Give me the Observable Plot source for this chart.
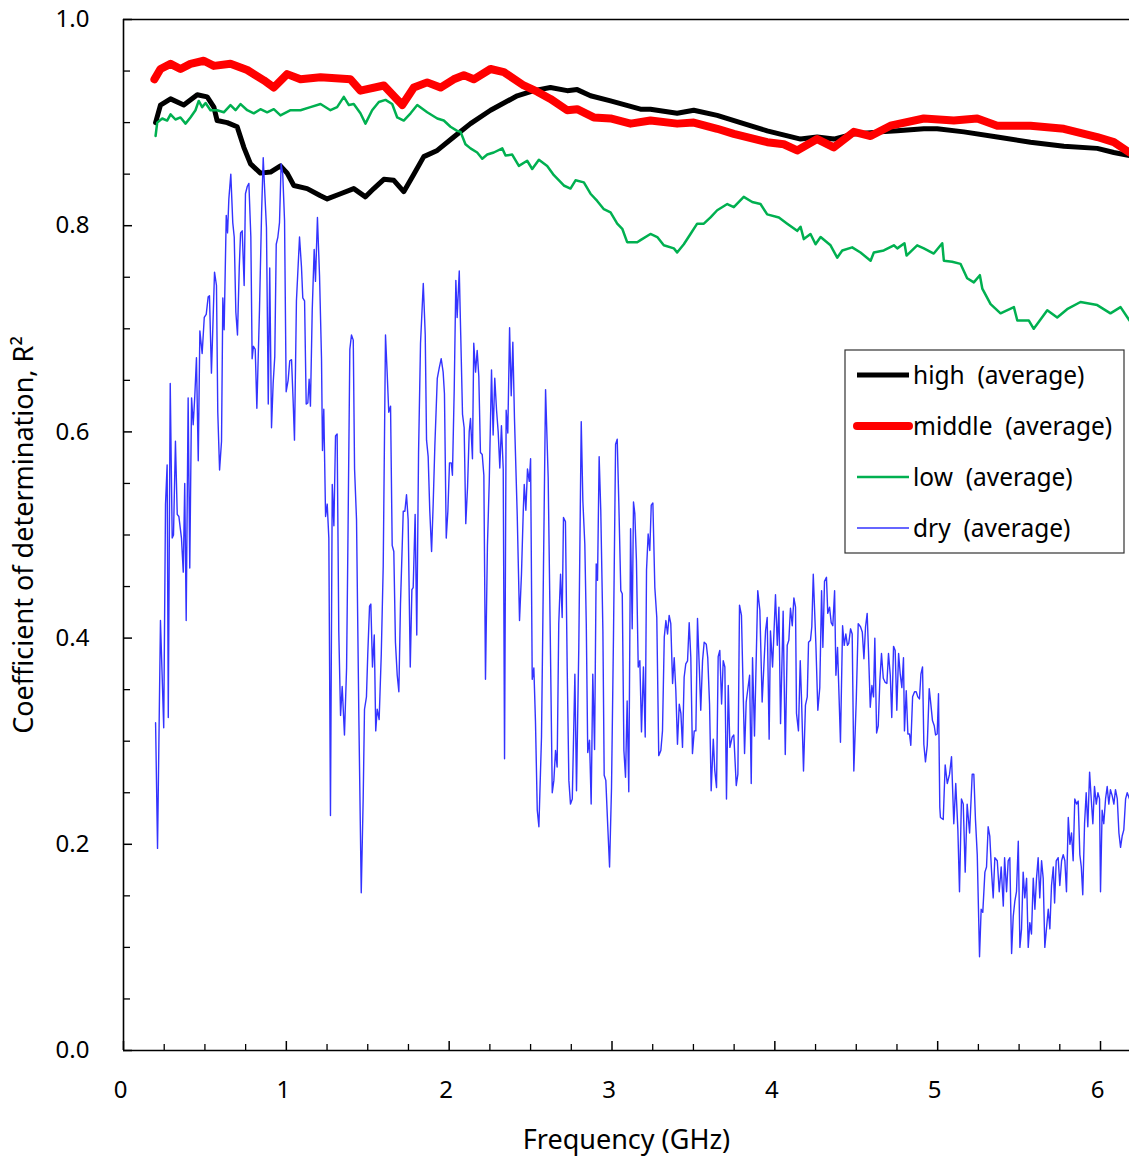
<!DOCTYPE html>
<html><head><meta charset="utf-8">
<script src="https://cdn.jsdelivr.net/npm/d3@7"></script>
<script src="https://cdn.jsdelivr.net/npm/@observablehq/plot@0.6"></script>
<style>
body{margin:0;background:#fff;font-family:"Noto Sans",sans-serif;}
#wrap{position:relative;width:1129px;height:1162px;}
#legend{position:absolute;left:844px;top:349px;}
</style></head><body><div id="wrap"></div><script>
// ---- data: [frequency GHz, R^2] ----
const highPoints = [[0.197,0.900],[0.227,0.917],[0.289,0.923],[0.370,0.917],[0.453,0.927],[0.514,0.925],[0.555,0.915],[0.575,0.902],[0.637,0.900],[0.698,0.896],[0.739,0.876],[0.780,0.860],[0.841,0.851],[0.903,0.852],[0.964,0.858],[1.005,0.851],[1.046,0.839],[1.128,0.836],[1.210,0.829],[1.251,0.826],[1.333,0.831],[1.414,0.836],[1.486,0.828],[1.537,0.836],[1.599,0.845],[1.660,0.844],[1.721,0.833],[1.783,0.850],[1.844,0.867],[1.927,0.873],[2.028,0.886],[2.131,0.899],[2.254,0.912],[2.418,0.926],[2.520,0.931],[2.622,0.934],[2.725,0.931],[2.786,0.932],[2.868,0.926],[2.991,0.921],[3.175,0.913],[3.236,0.913],[3.400,0.909],[3.502,0.912],[3.646,0.907],[3.789,0.900],[3.953,0.892],[4.158,0.884],[4.260,0.886],[4.362,0.884],[4.485,0.889],[4.649,0.891],[4.752,0.892],[4.915,0.894],[4.997,0.894],[5.161,0.891],[5.366,0.886],[5.570,0.881],[5.775,0.877],[5.980,0.875],[6.082,0.871],[6.178,0.868]];
const middlePoints = [[0.190,0.942],[0.227,0.952],[0.289,0.957],[0.350,0.952],[0.411,0.957],[0.493,0.960],[0.555,0.955],[0.657,0.957],[0.760,0.951],[0.862,0.941],[0.923,0.934],[1.005,0.947],[1.087,0.942],[1.210,0.944],[1.394,0.942],[1.455,0.931],[1.599,0.936],[1.712,0.917],[1.783,0.934],[1.865,0.939],[1.947,0.934],[2.028,0.942],[2.090,0.946],[2.151,0.942],[2.254,0.952],[2.336,0.949],[2.458,0.936],[2.541,0.930],[2.622,0.923],[2.725,0.912],[2.786,0.913],[2.888,0.905],[2.991,0.904],[3.114,0.899],[3.236,0.902],[3.400,0.899],[3.502,0.900],[3.646,0.894],[3.748,0.889],[3.953,0.881],[4.055,0.879],[4.137,0.873],[4.260,0.884],[4.362,0.876],[4.485,0.891],[4.588,0.887],[4.710,0.897],[4.915,0.904],[5.099,0.902],[5.243,0.904],[5.366,0.897],[5.570,0.897],[5.775,0.894],[5.980,0.886],[6.082,0.881],[6.178,0.871]];
const lowPoints = [[0.197,0.887],[0.207,0.900],[0.238,0.904],[0.268,0.902],[0.289,0.908],[0.319,0.903],[0.350,0.905],[0.381,0.899],[0.411,0.905],[0.442,0.912],[0.462,0.921],[0.483,0.915],[0.504,0.919],[0.534,0.912],[0.575,0.912],[0.616,0.910],[0.657,0.917],[0.688,0.912],[0.719,0.918],[0.760,0.912],[0.800,0.909],[0.841,0.913],[0.882,0.910],[0.923,0.913],[0.964,0.907],[1.026,0.912],[1.087,0.912],[1.148,0.915],[1.210,0.918],[1.271,0.912],[1.312,0.915],[1.353,0.925],[1.384,0.917],[1.414,0.918],[1.455,0.909],[1.486,0.899],[1.527,0.912],[1.568,0.920],[1.609,0.922],[1.650,0.918],[1.681,0.905],[1.721,0.902],[1.763,0.909],[1.804,0.917],[1.865,0.910],[1.927,0.904],[1.967,0.902],[2.008,0.896],[2.049,0.892],[2.070,0.891],[2.100,0.879],[2.131,0.875],[2.172,0.871],[2.203,0.865],[2.234,0.869],[2.274,0.871],[2.326,0.875],[2.346,0.868],[2.387,0.869],[2.428,0.858],[2.479,0.863],[2.510,0.855],[2.551,0.864],[2.602,0.858],[2.643,0.849],[2.704,0.839],[2.745,0.836],[2.776,0.844],[2.827,0.842],[2.868,0.831],[2.909,0.824],[2.950,0.816],[2.991,0.813],[3.032,0.802],[3.063,0.797],[3.093,0.784],[3.155,0.784],[3.175,0.786],[3.236,0.792],[3.278,0.789],[3.318,0.781],[3.380,0.778],[3.400,0.774],[3.441,0.782],[3.482,0.792],[3.523,0.802],[3.564,0.802],[3.605,0.808],[3.646,0.815],[3.708,0.821],[3.748,0.818],[3.809,0.828],[3.861,0.823],[3.912,0.821],[3.953,0.811],[4.025,0.808],[4.076,0.802],[4.137,0.795],[4.158,0.799],[4.178,0.787],[4.219,0.792],[4.250,0.782],[4.281,0.789],[4.342,0.781],[4.383,0.769],[4.414,0.776],[4.475,0.779],[4.526,0.774],[4.588,0.766],[4.608,0.774],[4.669,0.776],[4.731,0.781],[4.752,0.778],[4.796,0.783],[4.809,0.771],[4.874,0.781],[4.915,0.778],[4.976,0.773],[5.028,0.783],[5.038,0.766],[5.089,0.765],[5.140,0.763],[5.181,0.749],[5.222,0.745],[5.259,0.752],[5.274,0.739],[5.325,0.724],[5.386,0.715],[5.468,0.721],[5.489,0.708],[5.560,0.708],[5.590,0.700],[5.673,0.718],[5.734,0.711],[5.795,0.719],[5.877,0.726],[5.980,0.723],[6.061,0.715],[6.123,0.721],[6.178,0.708]];
const dryPoints = [[0.197,0.318],[0.209,0.196],[0.227,0.417],[0.247,0.313],[0.258,0.530],[0.268,0.568],[0.275,0.323],[0.287,0.647],[0.299,0.497],[0.307,0.500],[0.319,0.591],[0.330,0.520],[0.340,0.518],[0.356,0.497],[0.367,0.464],[0.376,0.550],[0.385,0.417],[0.397,0.633],[0.407,0.468],[0.418,0.633],[0.428,0.607],[0.438,0.635],[0.448,0.672],[0.459,0.572],[0.469,0.698],[0.483,0.676],[0.496,0.711],[0.508,0.714],[0.520,0.731],[0.528,0.732],[0.540,0.657],[0.559,0.755],[0.571,0.742],[0.579,0.619],[0.590,0.563],[0.602,0.591],[0.610,0.730],[0.618,0.699],[0.631,0.810],[0.639,0.793],[0.647,0.826],[0.659,0.850],[0.671,0.803],[0.680,0.789],[0.690,0.716],[0.700,0.694],[0.711,0.760],[0.719,0.793],[0.729,0.795],[0.741,0.742],[0.749,0.831],[0.760,0.838],[0.770,0.841],[0.782,0.789],[0.790,0.671],[0.798,0.683],[0.809,0.680],[0.819,0.623],[0.835,0.718],[0.848,0.812],[0.858,0.866],[0.868,0.831],[0.878,0.798],[0.889,0.627],[0.898,0.759],[0.909,0.604],[0.919,0.647],[0.929,0.673],[0.938,0.782],[0.948,0.789],[0.958,0.803],[0.968,0.860],[0.978,0.850],[0.989,0.805],[0.999,0.639],[1.011,0.650],[1.021,0.669],[1.032,0.670],[1.042,0.629],[1.050,0.592],[1.062,0.727],[1.081,0.789],[1.093,0.760],[1.101,0.730],[1.112,0.727],[1.122,0.627],[1.132,0.628],[1.140,0.651],[1.148,0.625],[1.159,0.718],[1.171,0.777],[1.179,0.746],[1.191,0.808],[1.204,0.751],[1.216,0.671],[1.222,0.582],[1.230,0.622],[1.241,0.518],[1.251,0.530],[1.261,0.497],[1.271,0.228],[1.282,0.549],[1.292,0.509],[1.302,0.596],[1.312,0.598],[1.322,0.407],[1.333,0.325],[1.343,0.353],[1.357,0.306],[1.370,0.371],[1.378,0.490],[1.390,0.680],[1.400,0.694],[1.411,0.689],[1.419,0.564],[1.431,0.515],[1.445,0.327],[1.460,0.153],[1.472,0.245],[1.480,0.331],[1.492,0.343],[1.500,0.384],[1.511,0.431],[1.519,0.433],[1.529,0.372],[1.540,0.403],[1.549,0.310],[1.558,0.331],[1.570,0.321],[1.583,0.384],[1.595,0.470],[1.609,0.694],[1.619,0.658],[1.629,0.619],[1.640,0.625],[1.650,0.490],[1.660,0.484],[1.670,0.396],[1.681,0.364],[1.691,0.348],[1.701,0.433],[1.718,0.523],[1.728,0.523],[1.738,0.539],[1.748,0.515],[1.761,0.372],[1.771,0.447],[1.779,0.449],[1.791,0.520],[1.801,0.403],[1.812,0.580],[1.824,0.686],[1.841,0.744],[1.853,0.694],[1.861,0.592],[1.871,0.576],[1.881,0.523],[1.892,0.484],[1.902,0.531],[1.912,0.586],[1.927,0.652],[1.939,0.662],[1.951,0.671],[1.963,0.658],[1.971,0.637],[1.982,0.497],[1.992,0.523],[2.002,0.570],[2.013,0.570],[2.020,0.558],[2.031,0.641],[2.041,0.747],[2.049,0.711],[2.062,0.756],[2.071,0.694],[2.082,0.617],[2.092,0.604],[2.102,0.511],[2.113,0.547],[2.123,0.600],[2.131,0.613],[2.143,0.574],[2.151,0.686],[2.162,0.658],[2.172,0.679],[2.182,0.654],[2.192,0.580],[2.203,0.578],[2.213,0.558],[2.223,0.360],[2.235,0.490],[2.246,0.551],[2.260,0.660],[2.270,0.597],[2.280,0.652],[2.291,0.621],[2.301,0.600],[2.311,0.565],[2.321,0.606],[2.332,0.564],[2.340,0.283],[2.350,0.621],[2.360,0.599],[2.371,0.701],[2.381,0.635],[2.391,0.687],[2.401,0.613],[2.418,0.519],[2.432,0.417],[2.444,0.462],[2.455,0.523],[2.461,0.549],[2.471,0.524],[2.481,0.564],[2.492,0.552],[2.500,0.574],[2.510,0.360],[2.520,0.371],[2.530,0.319],[2.541,0.233],[2.551,0.217],[2.567,0.304],[2.579,0.466],[2.592,0.641],[2.608,0.556],[2.621,0.401],[2.633,0.250],[2.643,0.262],[2.653,0.291],[2.663,0.275],[2.673,0.414],[2.684,0.462],[2.694,0.420],[2.702,0.517],[2.714,0.513],[2.725,0.369],[2.735,0.262],[2.745,0.239],[2.756,0.244],[2.772,0.365],[2.782,0.252],[2.796,0.391],[2.811,0.610],[2.821,0.533],[2.833,0.491],[2.842,0.414],[2.851,0.289],[2.862,0.301],[2.872,0.239],[2.882,0.365],[2.893,0.292],[2.903,0.472],[2.911,0.456],[2.921,0.576],[2.931,0.524],[2.944,0.407],[2.952,0.267],[2.962,0.262],[2.974,0.217],[2.985,0.178],[2.997,0.255],[3.009,0.401],[3.022,0.588],[3.032,0.593],[3.042,0.530],[3.054,0.446],[3.063,0.443],[3.073,0.291],[3.083,0.265],[3.093,0.339],[3.103,0.251],[3.114,0.506],[3.124,0.409],[3.132,0.532],[3.140,0.521],[3.150,0.475],[3.161,0.372],[3.171,0.378],[3.181,0.309],[3.193,0.372],[3.204,0.304],[3.212,0.466],[3.222,0.501],[3.232,0.485],[3.241,0.529],[3.251,0.531],[3.263,0.449],[3.275,0.420],[3.287,0.286],[3.300,0.291],[3.310,0.310],[3.321,0.401],[3.331,0.417],[3.341,0.404],[3.351,0.422],[3.361,0.414],[3.372,0.356],[3.382,0.381],[3.392,0.349],[3.402,0.297],[3.413,0.336],[3.423,0.327],[3.433,0.294],[3.443,0.362],[3.453,0.375],[3.464,0.378],[3.474,0.415],[3.484,0.381],[3.494,0.288],[3.505,0.310],[3.515,0.310],[3.525,0.419],[3.536,0.372],[3.545,0.330],[3.556,0.378],[3.566,0.396],[3.579,0.394],[3.588,0.381],[3.599,0.336],[3.609,0.252],[3.622,0.302],[3.631,0.272],[3.642,0.255],[3.652,0.382],[3.662,0.388],[3.673,0.336],[3.683,0.378],[3.693,0.372],[3.703,0.244],[3.714,0.354],[3.724,0.294],[3.738,0.304],[3.748,0.306],[3.763,0.257],[3.773,0.268],[3.783,0.432],[3.795,0.422],[3.814,0.288],[3.824,0.338],[3.845,0.364],[3.855,0.259],[3.863,0.381],[3.875,0.305],[3.895,0.446],[3.908,0.427],[3.922,0.338],[3.943,0.407],[3.953,0.420],[3.965,0.302],[3.973,0.407],[3.986,0.372],[4.004,0.442],[4.015,0.393],[4.025,0.430],[4.035,0.317],[4.051,0.426],[4.064,0.287],[4.076,0.393],[4.086,0.398],[4.096,0.429],[4.107,0.412],[4.117,0.439],[4.127,0.430],[4.133,0.327],[4.145,0.310],[4.156,0.378],[4.164,0.340],[4.176,0.271],[4.188,0.335],[4.199,0.343],[4.207,0.396],[4.219,0.398],[4.227,0.411],[4.236,0.462],[4.252,0.394],[4.264,0.330],[4.276,0.352],[4.287,0.446],[4.295,0.391],[4.305,0.455],[4.317,0.459],[4.325,0.424],[4.336,0.430],[4.346,0.415],[4.356,0.412],[4.367,0.446],[4.375,0.364],[4.385,0.391],[4.403,0.299],[4.416,0.412],[4.426,0.393],[4.436,0.404],[4.446,0.393],[4.454,0.395],[4.465,0.409],[4.475,0.404],[4.485,0.271],[4.500,0.340],[4.512,0.414],[4.526,0.411],[4.537,0.406],[4.547,0.380],[4.557,0.411],[4.567,0.424],[4.575,0.388],[4.586,0.333],[4.596,0.354],[4.606,0.343],[4.614,0.400],[4.625,0.308],[4.635,0.315],[4.645,0.359],[4.655,0.385],[4.666,0.361],[4.678,0.357],[4.688,0.356],[4.698,0.385],[4.709,0.364],[4.718,0.323],[4.729,0.392],[4.739,0.388],[4.749,0.330],[4.760,0.385],[4.770,0.365],[4.780,0.352],[4.790,0.381],[4.796,0.310],[4.807,0.349],[4.817,0.307],[4.827,0.307],[4.835,0.296],[4.846,0.343],[4.858,0.348],[4.868,0.348],[4.878,0.343],[4.888,0.341],[4.897,0.365],[4.907,0.372],[4.915,0.297],[4.925,0.280],[4.936,0.296],[4.948,0.351],[4.958,0.336],[4.968,0.320],[4.979,0.315],[4.987,0.306],[4.997,0.307],[5.005,0.346],[5.013,0.236],[5.017,0.226],[5.034,0.224],[5.046,0.277],[5.059,0.259],[5.073,0.268],[5.085,0.285],[5.099,0.220],[5.111,0.259],[5.124,0.214],[5.134,0.154],[5.146,0.244],[5.157,0.239],[5.169,0.173],[5.181,0.239],[5.196,0.211],[5.212,0.268],[5.222,0.268],[5.232,0.224],[5.243,0.190],[5.257,0.091],[5.267,0.137],[5.277,0.134],[5.290,0.173],[5.300,0.178],[5.310,0.217],[5.320,0.208],[5.331,0.173],[5.341,0.148],[5.351,0.187],[5.366,0.184],[5.378,0.154],[5.390,0.178],[5.403,0.140],[5.411,0.187],[5.423,0.154],[5.433,0.184],[5.443,0.187],[5.454,0.094],[5.464,0.130],[5.474,0.145],[5.484,0.154],[5.495,0.203],[5.505,0.100],[5.515,0.118],[5.525,0.173],[5.535,0.148],[5.546,0.167],[5.556,0.100],[5.566,0.124],[5.576,0.113],[5.587,0.167],[5.597,0.137],[5.607,0.167],[5.617,0.187],[5.627,0.148],[5.638,0.184],[5.648,0.167],[5.658,0.100],[5.668,0.118],[5.679,0.137],[5.689,0.118],[5.699,0.160],[5.710,0.178],[5.718,0.143],[5.728,0.184],[5.740,0.187],[5.750,0.160],[5.761,0.184],[5.771,0.190],[5.781,0.184],[5.791,0.154],[5.802,0.226],[5.812,0.200],[5.822,0.211],[5.832,0.184],[5.842,0.244],[5.853,0.239],[5.863,0.242],[5.873,0.190],[5.882,0.178],[5.891,0.151],[5.902,0.220],[5.912,0.250],[5.922,0.217],[5.933,0.270],[5.943,0.244],[5.953,0.220],[5.963,0.256],[5.974,0.239],[5.984,0.250],[5.994,0.244],[6.000,0.154],[6.010,0.233],[6.020,0.220],[6.031,0.244],[6.041,0.256],[6.051,0.239],[6.061,0.253],[6.072,0.247],[6.082,0.239],[6.092,0.253],[6.103,0.244],[6.113,0.211],[6.123,0.197],[6.133,0.208],[6.143,0.214],[6.154,0.244],[6.164,0.250],[6.178,0.244]];

const seriesNames = ["high\u00a0 (average)", "middle\u00a0 (average)", "low\u00a0 (average)", "dry\u00a0 (average)"];
const seriesColors = ["#000000", "#ff0000", "#00b050", "#3333ff"];
const seriesWidths = [5, 8, 2.5, 1.4];

const xMajorTicks = [0, 1, 2, 3, 4, 5, 6];
const xMinorTicks = [0.25,0.5,0.75,1.25,1.5,1.75,2.25,2.5,2.75,3.25,3.5,3.75,4.25,4.5,4.75,5.25,5.5,5.75];
const yMajorTicks = [0, 0.2, 0.4, 0.6, 0.8, 1.0];
const yMinorTicks = [0.05,0.1,0.15,0.25,0.3,0.35,0.45,0.5,0.55,0.65,0.7,0.75,0.85,0.9,0.95];
const xTitle = "Frequency (GHz)";
const yTitle = "Coefficient of determination, R\u00b2";

// ---- layout ----
const W = 1129, H = 1162, mL = 123, mR = 0, mT = 19, mB = 112;
const plotW = W - mL - mR, plotH = H - mT - mB;
const toRows = pts => pts.map(([f, r]) => ({f, r}));
const allSeries = [highPoints, middlePoints, lowPoints, dryPoints];

const lineMarks = allSeries.map((pts, i) =>
  Plot.line(toRows(pts), {x: "f", y: "r", stroke: seriesColors[i], strokeWidth: seriesWidths[i],
    strokeLinejoin: "round", strokeLinecap: "round", clip: true}));

const chart = Plot.plot({
  width: W, height: H,
  marginLeft: mL, marginRight: mR, marginTop: mT, marginBottom: mB,
  style: {fontFamily: '"Noto Sans", sans-serif', fontSize: "24px", color: "#000", background: "#fff"},
  x: {domain: [0, 6.178], axis: null},
  y: {domain: [0, 1], axis: null},
  marks: [
    ...lineMarks,
    Plot.ruleY([1], {stroke: "#000", strokeWidth: 1.3}),
    Plot.ruleX([0], {stroke: "#000", strokeWidth: 1.6}),
    Plot.ruleY([0], {stroke: "#000", strokeWidth: 1.6}),
    Plot.tickX(xMinorTicks, {x: d => d, insetTop: plotH - 6, stroke: "#000", strokeWidth: 1.3}),
    Plot.tickX(xMajorTicks, {x: d => d, insetTop: plotH - 9, stroke: "#000", strokeWidth: 1.5}),
    Plot.tickY(yMinorTicks, {y: d => d, insetRight: plotW - 7, stroke: "#000", strokeWidth: 1.3}),
    Plot.tickY(yMajorTicks, {y: d => d, insetRight: plotW - 9, stroke: "#000", strokeWidth: 1.5}),
    Plot.axisX(xMajorTicks, {tickSize: 0, tickPadding: 30, dx: -3, tickFormat: d => String(d), label: null}),
    Plot.axisY(yMajorTicks, {tickSize: 0, tickPadding: 34, tickFormat: d => d.toFixed(1), label: null}),
    Plot.text([xTitle], {frameAnchor: "bottom", dy: 98, fontSize: 27, fill: "#000"}),
    Plot.text([yTitle], {frameAnchor: "left", dx: -99, rotate: -90, textAnchor: "middle", fontSize: 27, fill: "#000"})
  ]
});
const wrap = document.getElementById("wrap");
wrap.appendChild(chart);

// ---- legend (overlay box) ----
const lg = d3.select(wrap).append("svg").attr("id", "legend")
  .attr("width", 282).attr("height", 206);
lg.append("rect").attr("x", 1).attr("y", 1).attr("width", 279).attr("height", 203)
  .attr("fill", "#fff").attr("stroke", "#333").attr("stroke-width", 1.2);
seriesNames.forEach((name, i) => {
  const cy = 26 + i * 51;
  lg.append("line").attr("x1", 13).attr("x2", 65).attr("y1", cy).attr("y2", cy)
    .attr("stroke", seriesColors[i]).attr("stroke-width", seriesWidths[i])
    .attr("stroke-linecap", i === 1 ? "round" : "butt");
  lg.append("text").attr("x", 69).attr("y", cy).attr("dy", "0.35em")
    .attr("font-family", '"Noto Sans", sans-serif').attr("font-size", 24.5).attr("fill", "#000")
    .text(name);
});
</script></body></html>
